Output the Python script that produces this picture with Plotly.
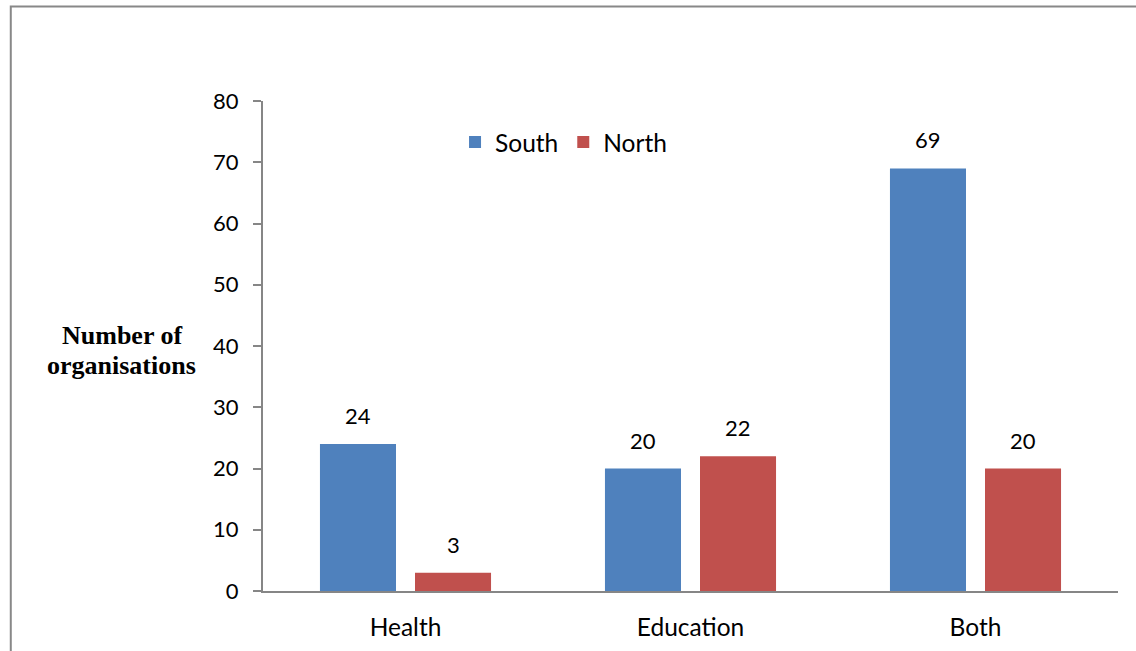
import plotly.graph_objects as go

categories = ["Health", "Education", "Both"]
south = [24, 20, 69]
north = [3, 22, 20]
series_names = ["South", "North"]
y_ticks = [0, 10, 20, 30, 40, 50, 60, 70, 80]

BLUE = "#4F81BD"
RED = "#C0504D"
AXIS = "#868686"
FONT = "Lato"
NUM_SIZE = 22
TXT_SIZE = 24.5

fig = go.Figure()
fig.add_trace(go.Bar(name=series_names[0], x=categories, y=south, marker=dict(color=BLUE, line=dict(width=0))))
fig.add_trace(go.Bar(name=series_names[1], x=categories, y=north, marker=dict(color=RED, line=dict(width=0))))

# data labels
for vals, shift in ((south, -47.5), (north, 47.5)):
    for c, v in zip(categories, vals):
        fig.add_annotation(x=c, y=v, text=str(v), showarrow=False, xshift=shift, yshift=13,
                           yanchor="bottom", font=dict(family=FONT, size=NUM_SIZE, color="#000"))

title_font = dict(family="Liberation Serif", size=26, color="#000")
fig.add_annotation(xref="paper", yref="paper", x=-0.165, y=0.522, text="<b>Number of</b>",
                   showarrow=False, xanchor="center", yanchor="middle", font=title_font)
fig.add_annotation(xref="paper", yref="paper", x=-0.165, y=0.461, text="<b>organisations</b>",
                   showarrow=False, xanchor="center", yanchor="middle", font=title_font)

fig.add_shape(type="rect", xref="paper", yref="paper", x0=-0.295, y0=-0.5, x1=1.5, y1=1.193,
              line=dict(color="#888888", width=2), layer="below")

fig.update_layout(
    width=1136, height=651,
    margin=dict(l=263, r=18, t=101, b=60, autoexpand=False),
    paper_bgcolor="white", plot_bgcolor="white",
    barmode="group", bargap=0.333, bargroupgap=0.2,
    font=dict(family=FONT, size=TXT_SIZE, color="#000"),
    legend=dict(orientation="h", x=0.2246, y=0.916, xanchor="left", yanchor="middle",
                font=dict(family=FONT, size=TXT_SIZE), itemwidth=30, bgcolor="rgba(0,0,0,0)"),
    xaxis=dict(showline=True, linecolor=AXIS, linewidth=2, ticks="", showgrid=False, automargin=False,
               ticklabelstandoff=14, tickfont=dict(family=FONT, size=TXT_SIZE)),
    yaxis=dict(range=[0, 80], tickvals=y_ticks, showline=True, linecolor=AXIS, linewidth=2,
               ticks="outside", ticklen=8, tickcolor=AXIS, tickwidth=2, showgrid=False, automargin=False,
               zeroline=False, ticklabelstandoff=10, tickfont=dict(family=FONT, size=NUM_SIZE)),
)

fig.write_html("out.html")
